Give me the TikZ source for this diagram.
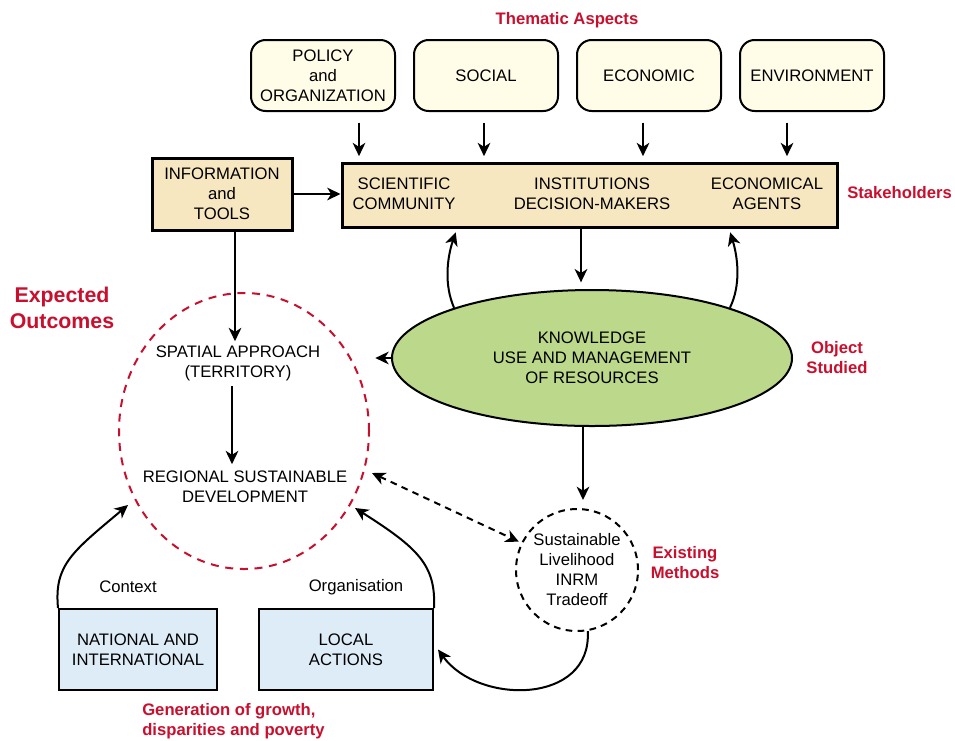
\documentclass[tikz,border=0pt]{standalone}
\usepackage{fontspec}
\setmainfont{Liberation Sans}
\usetikzlibrary{arrows.meta,shapes.geometric,calc}
\definecolor{redc}{HTML}{C8102E}
\definecolor{ylw}{HTML}{FFFCE8}
\definecolor{wht}{HTML}{F7E7C1}
\definecolor{grn}{HTML}{BBD88B}
\definecolor{blu}{HTML}{DEECF8}
\begin{document}
\begin{tikzpicture}[x=0.75pt,y=-0.75pt,
  every node/.style={font=\fontsize{12.5}{15}\selectfont, align=center, inner sep=0pt},
  theme/.style={draw, line width=1.5pt, rounded corners=11pt, fill=ylw, minimum width=108pt, minimum height=53.25pt},
  tip/.tip={Stealth[length=10pt,width=9.5pt,inset=3pt]},
  arr/.style={line width=1.5pt, -tip},
  darr/.style={line width=1.5pt, dash pattern=on 5pt off 4pt, tip-tip},
  lbl/.style={text=redc, font=\bfseries\fontsize{12.5}{15}\selectfont},
  bluebox/.style={draw, line width=1.5pt, fill=blu, minimum width=118.5pt, minimum height=60.75pt},
]
\useasboundingbox (0,0) rectangle (955,740);

% thematic aspects
\node[lbl] (ta) at (567,20) {Thematic Aspects};
\node[theme] (pol) at (323,75.5) {POLICY\\and\\ORGANIZATION};
\node[theme] (soc) at (486,75.5) {SOCIAL};
\node[theme] (eco) at (649,75.5) {ECONOMIC};
\node[theme] (env) at (812,75.5) {ENVIRONMENT};

% stakeholders
\node[draw, line width=2.25pt, fill=wht, minimum width=371.25pt, minimum height=48pt] (stake) at (589.5,195) {};
\node (sc) at (404,194) {SCIENTIFIC\\COMMUNITY};
\node (inst) at (592,194) {INSTITUTIONS\\DECISION-MAKERS};
\node (ag) at (767,194) {ECONOMICAL\\AGENTS};
\node[lbl, anchor=west] (stl) at (847,193) {Stakeholders};

\node[draw, line width=2.25pt, fill=wht, minimum width=105pt, minimum height=54pt] (info) at (222,194) {INFORMATION\\and\\TOOLS};

% top arrows
\coordinate (a1) at (359,0);
\coordinate (a2) at (484,0);
\coordinate (a3) at (643,0);
\coordinate (a4) at (787,0);
\draw[arr, shorten <=8pt, shorten >=4pt] (pol.south -| a1) -- (stake.north -| a1);
\draw[arr, shorten <=8pt, shorten >=4pt] (soc.south -| a2) -- (stake.north -| a2);
\draw[arr, shorten <=8pt, shorten >=4pt] (eco.south -| a3) -- (stake.north -| a3);
\draw[arr, shorten <=8pt, shorten >=4pt] (env.south -| a4) -- (stake.north -| a4);
\draw[arr] (info.east) -- (info.east -| stake.west);

% knowledge ellipse
\node[ellipse, draw, line width=1.5pt, fill=grn, minimum width=300pt, minimum height=102pt] (kn) at (592,358) {KNOWLEDGE\\USE AND MANAGEMENT\\OF RESOURCES};
\node[lbl] (os) at (837,358) {Object\\Studied};

% expected outcomes
\node[lbl, font=\bfseries\fontsize{16}{19}\selectfont] (eol) at (62,308) {Expected\\Outcomes};
\node[ellipse, draw=redc, line width=1.5pt, dash pattern=on 6pt off 5pt, minimum width=187.5pt, minimum height=207pt] (eo) at (244,431) {};
\node (sp) at (238,363) {SPATIAL APPROACH\\(TERRITORY)};
\node (reg) at (245,487) {REGIONAL SUSTAINABLE\\DEVELOPMENT};

% existing methods
\node[circle, draw, line width=1.5pt, dash pattern=on 5pt off 4pt, minimum size=91.5pt] (em) at (577,570) {Sustainable\\Livelihood\\INRM\\Tradeoff};
\node[lbl] (eml) at (685,563) {Existing\\Methods};

% bottom boxes
\node[bluebox] (nat) at (138,649.5) {NATIONAL AND\\INTERNATIONAL};
\node[bluebox, minimum width=130.5pt] (loc) at (346,649.5) {LOCAL\\ACTIONS};
\node (ctx) at (128,587) {Context};
\node (org) at (356,587) {Organisation};
\node[lbl, anchor=north west, align=left] (gen) at (142,703) {Generation of growth,\\disparities and poverty};

% arrows middle
\coordinate (b1) at (235,0);
\coordinate (b2) at (581,0);
\coordinate (b3) at (232,0);
\coordinate (b4) at (583,0);
\coordinate (c1) at (457,0);
\coordinate (c2) at (729,0);
\draw[arr, shorten >=3pt] (info.south -| b1) -- (sp.north -| b1);
\draw[arr, shorten >=5pt] (stake.south -| b2) -- (kn.north -| b2);
\draw[arr, shorten >=3pt] (kn.160) .. controls (444,285) and (447,258) .. (stake.south -| c1);
\draw[arr, shorten >=3pt] (kn.20) .. controls (741,285) and (738,258) .. (stake.south -| c2);
\draw[arr, shorten >=4pt] (kn.west) -- (kn.west -| eo.east);
\draw[arr, shorten <=4pt, shorten >=5pt] (sp.south -| b3) -- (reg.north -| b3);
\draw[arr, shorten >=6pt] (kn.south -| b4) -- (em.north -| b4);
\coordinate (d1) at (372,473);
\draw[darr, shorten >=2pt] (d1) -- (em.154);

% bottom curves
\coordinate (e1) at (128,505);
\coordinate (e2) at (355,508);
\draw[arr] (nat.north west) .. controls (54,565) and (72,552) .. (e1);
\draw[arr] (loc.north east) .. controls (436,565) and (418,548) .. (e2);
\draw[arr] (em.-80) .. controls (592,705) and (478,705) .. ([xshift=3pt]loc.east);
\end{tikzpicture}
\end{document}
